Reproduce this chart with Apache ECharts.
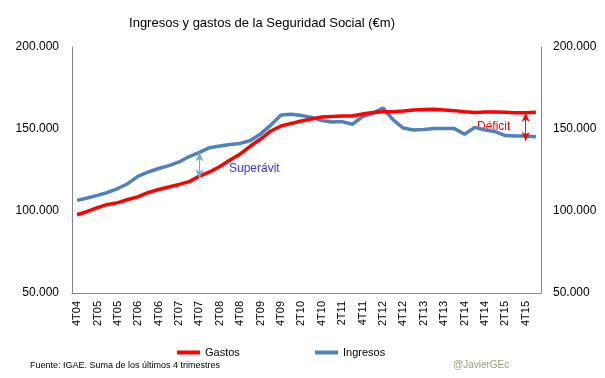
<!DOCTYPE html>
<html><head><meta charset="utf-8">
<script src="https://cdn.jsdelivr.net/npm/echarts@6/dist/echarts.min.js"></script>
<style>html,body{margin:0;padding:0;background:#fff}#c{width:605px;height:378px}</style>
</head><body><div id="c"></div>
<script>
var categories = ['4T04',
 '1T05','2T05','3T05','4T05','1T06','2T06','3T06','4T06','1T07','2T07','3T07','4T07',
 '1T08','2T08','3T08','4T08','1T09','2T09','3T09','4T09','1T10','2T10','3T10','4T10',
 '1T11','2T11','3T11','4T11','1T12','2T12','3T12','4T12','1T13','2T13','3T13','4T13',
 '1T14','2T14','3T14','4T14','1T15','2T15','3T15','4T15','1T16'];
var gastos = [97700,99700,102100,104000,105100,107000,108800,111300,113100,114600,116200,117900,121300,
 123800,127100,131100,134800,139600,143900,148800,151800,153400,154900,156100,157300,
 157600,157900,157900,159100,160100,160500,160500,161000,161600,161900,162000,161600,
 161200,160500,160100,160400,160400,160200,159900,159900,160200];
var ingresos = [106500,107900,109500,111300,113700,116800,121300,123800,125900,127700,129900,133200,135800,
 138600,139600,140500,141200,143000,147000,152400,158500,159000,158200,157100,155100,
 154300,154500,152900,157500,159500,162800,155500,150600,149400,149700,150300,150300,
 150300,146800,151000,149400,148400,146000,145700,145700,145300];
var yTicks = [50000, 100000, 150000, 200000];
var surplusIdx = 12, deficitIdx = 44;

function fmt(v){ return String(v).replace(/\B(?=(\d{3})+(?!\d))/g, '.'); }

var chart = echarts.init(document.getElementById('c'));
var axisFont = {fontFamily:'Liberation Sans', fontSize:12, color:'#000'};
var legTxt = {fontFamily:'Liberation Sans', fontSize:11, color:'#000'};
chart.setOption({
  animation:false,
  title:{text:'Ingresos y gastos de la Seguridad Social (€m)', left:257, textAlign:'center', top:12,
    textStyle:{fontFamily:'Liberation Sans', fontSize:13, fontWeight:'normal', color:'#000'}},
  grid:{left:72, right:64, top:47, bottom:85},
  legend:[
    {data:['Gastos'], left:172, top:342, icon:'rect', itemWidth:23, itemHeight:4, itemGap:2, textStyle:legTxt},
    {data:['Ingresos'], left:310, top:342, icon:'rect', itemWidth:23, itemHeight:4, itemGap:2, textStyle:legTxt}
  ],
  xAxis:{type:'category', data:categories, boundaryGap:true,
    axisLine:{lineStyle:{color:'#868686'}}, axisTick:{show:false},
    axisLabel:{rotate:90, interval:1, margin:8, fontFamily:'Liberation Sans', fontSize:11, color:'#000'}},
  yAxis:[
    {type:'value', min:yTicks[0], max:yTicks[yTicks.length-1], interval:50000, position:'left',
     splitLine:{show:false}, axisLine:{show:true, lineStyle:{color:'#868686'}}, axisTick:{show:false},
     axisLabel:Object.assign({margin:13, formatter:fmt}, axisFont)},
    {type:'value', min:yTicks[0], max:yTicks[yTicks.length-1], interval:50000, position:'right',
     splitLine:{show:false}, axisLine:{show:true, lineStyle:{color:'#868686'}}, axisTick:{show:false},
     axisLabel:Object.assign({margin:12, formatter:fmt}, axisFont)}
  ],
  series:[
    {name:'Gastos', type:'line', data:gastos, symbol:'none', color:'#ff0000',
     lineStyle:{width:3.5, color:'#ff0000'}, z:3,
     markLine:{silent:true, symbol:['arrow','arrow'], symbolSize:[6,9],
       lineStyle:{color:'#ff0000', width:1, type:'solid'}, label:{show:false},
       data:[[{coord:[categories[deficitIdx], gastos[deficitIdx]]},{coord:[categories[deficitIdx], ingresos[deficitIdx]-3000]}]]}},
    {name:'Ingresos', type:'line', data:ingresos, symbol:'none', color:'#4f81bd',
     lineStyle:{width:3.5, color:'#4f81bd'}, z:2,
     markLine:{silent:true, symbol:['arrow','arrow'], symbolSize:[6,9],
       lineStyle:{color:'#7fa3d0', width:1, type:'solid'}, label:{show:false},
       data:[[{coord:[categories[surplusIdx], ingresos[surplusIdx]]},{coord:[categories[surplusIdx], gastos[surplusIdx]-1500]}]]}}
  ],
  graphic:[
    {type:'text', left:229, top:163, style:{text:'Superávit', fill:'#3333ff', font:'12px "Liberation Sans"'}},
    {type:'text', left:477, top:121, style:{text:'Déficit', fill:'#ff0000', font:'12px "Liberation Sans"'}},
    {type:'text', left:30, top:361, style:{text:'Fuente: IGAE. Suma de los últimos 4 trimestres', fill:'#000', font:'9px "Liberation Sans"'}},
    {type:'text', left:453, top:360, style:{text:'@JavierGEc', fill:'#9f9a84', font:'10px "Liberation Sans"'}}
  ]
});
</script></body></html>
